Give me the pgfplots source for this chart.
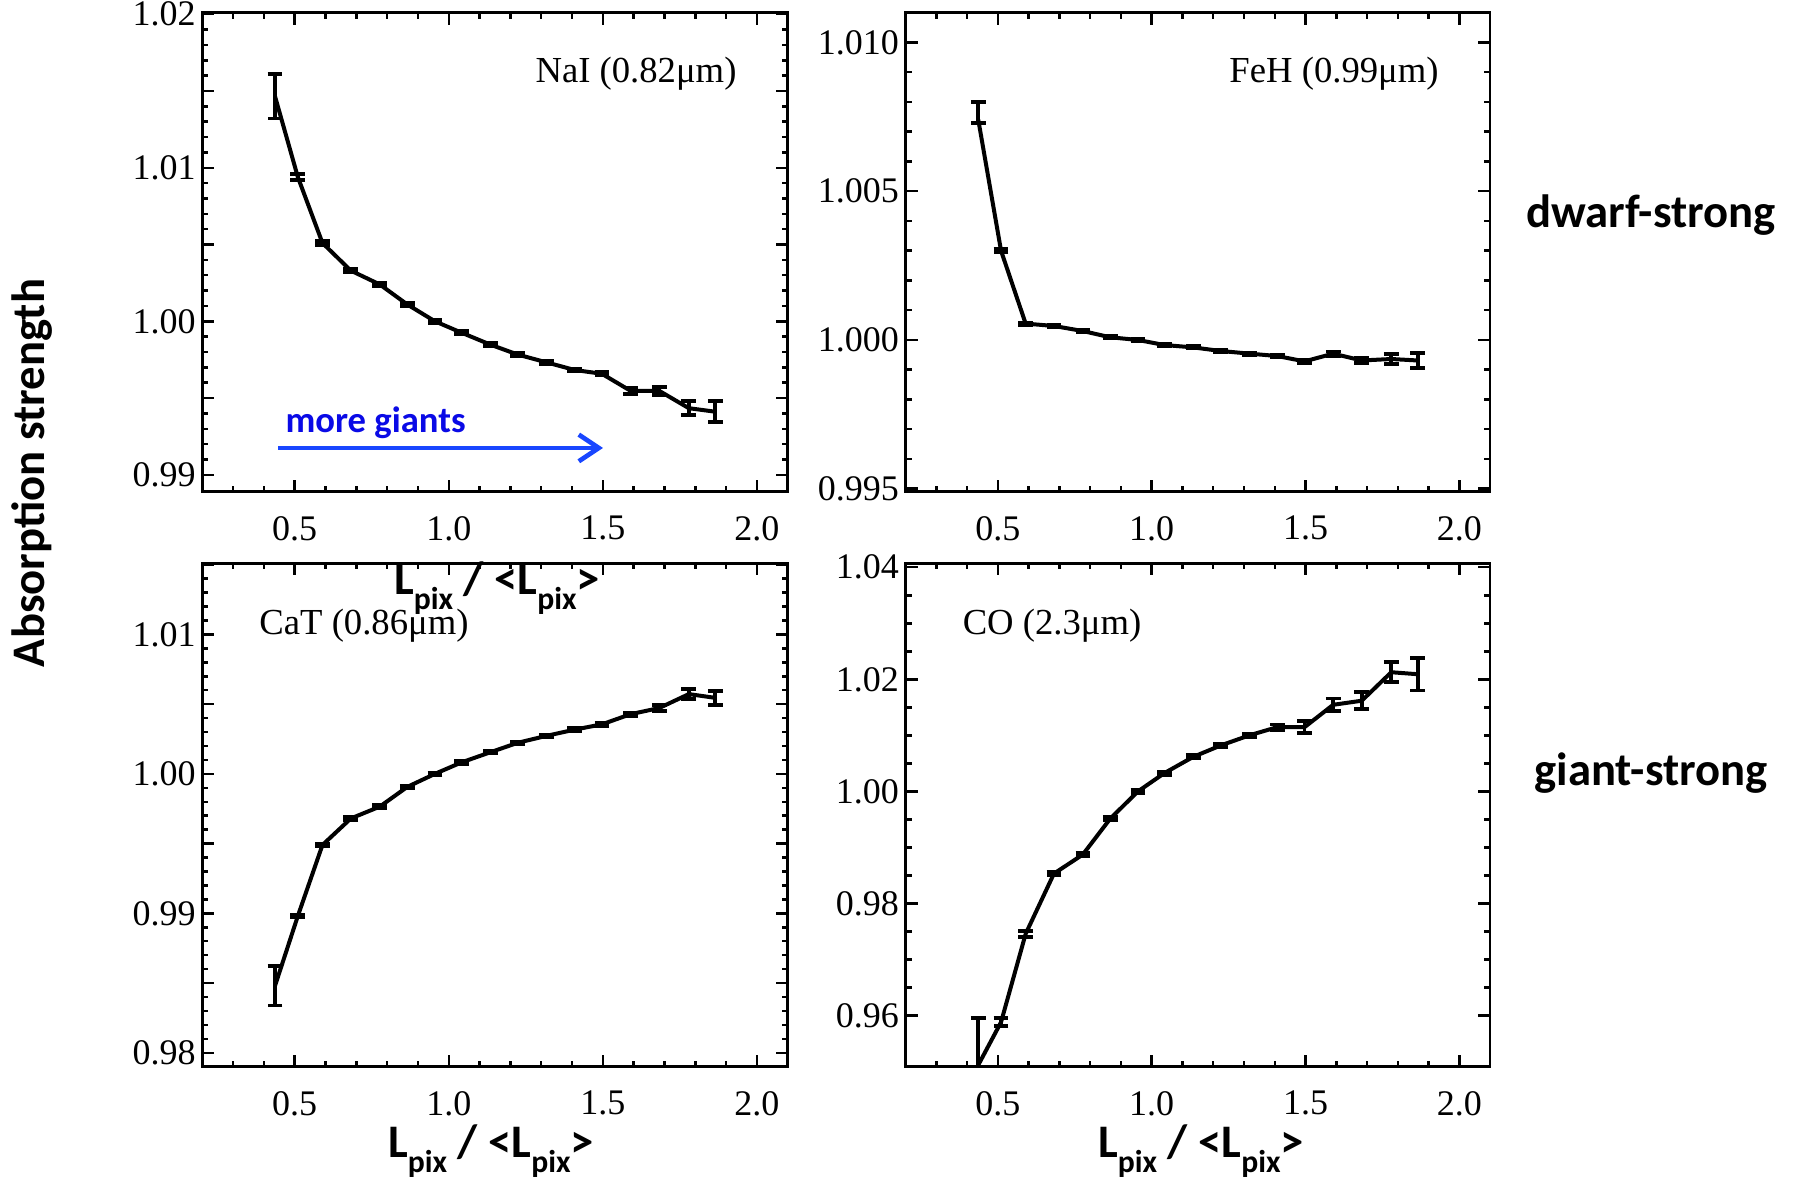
\documentclass[border=0pt]{standalone}
\usepackage{fontspec}
\setmainfont{Liberation Serif}
\newfontfamily\carlito{Carlito}
\usepackage{pgfplots}
\pgfplotsset{compat=1.18}
\usepackage{pgfplotstable}
\usetikzlibrary{arrows.meta}
\definecolor{arrowblue}{RGB}{25,70,255}
\definecolor{textblue}{RGB}{10,10,230}

\pgfplotstableread{
x y ep em
0.436 1.01465 0.00145 0.00145
0.51 1.0094 0.0002 0.0002
0.59 1.0051 0.00015 0.00015
0.682 1.0033 0.0001 0.0001
0.776 1.0024 0.0001 0.0001
0.865 1.0011 0.0001 0.0001
0.955 1.0000 0.0001 0.0001
1.041 0.99926 0.0001 0.0001
1.135 0.99848 0.0001 0.0001
1.224 0.99783 0.0001 0.0001
1.318 0.99732 0.0001 0.0001
1.408 0.99683 0.0001 0.0001
1.497 0.99658 0.00012 0.00012
1.59 0.99547 0.00022 0.00022
1.683 0.99547 0.00025 0.00025
1.779 0.99434 0.00045 0.00045
1.865 0.99411 0.00068 0.00068
}\nai

\pgfplotstableread{
x y ep em
0.436 1.0074 0.0006 0.0001
0.51 1.0030 0.00005 0.00005
0.59 1.00055 0.00004 0.00004
0.682 1.00047 0.00004 0.00004
0.776 1.0003 0.00004 0.00004
0.865 1.00009 0.00004 0.00004
0.955 1.0000 0.00004 0.00004
1.041 0.99983 0.00004 0.00004
1.135 0.99975 0.00004 0.00004
1.224 0.99963 0.00004 0.00004
1.318 0.99954 0.00004 0.00004
1.408 0.99946 0.00004 0.00004
1.497 0.99928 0.00006 0.00006
1.59 0.99954 0.00007 0.00007
1.683 0.99931 0.00008 0.00008
1.779 0.99936 0.00017 0.00017
1.865 0.99931 0.00025 0.00025
}\feh

\pgfplotstableread{
x y ep em
0.436 0.9848 0.0014 0.0014
0.51 0.9898 0.0001 0.0001
0.59 0.9949 0.0001 0.0001
0.682 0.9968 0.0001 0.0001
0.776 0.99765 0.0001 0.0001
0.865 0.99906 0.0001 0.0001
0.955 1.0000 0.0001 0.0001
1.041 1.00082 0.0001 0.0001
1.135 1.00155 0.0001 0.0001
1.224 1.00223 0.0001 0.0001
1.318 1.00273 0.0001 0.0001
1.408 1.00317 0.0001 0.0001
1.497 1.00355 0.0001 0.0001
1.59 1.00428 0.00012 0.00012
1.683 1.00472 0.00022 0.00022
1.779 1.00572 0.00035 0.00035
1.865 1.00545 0.0005 0.0005
}\cat

\pgfplotstableread{
x y ep em
0.436 0.9512 0.0084 0.0084
0.51 0.95884 0.0007 0.0007
0.59 0.97459 0.0005 0.0005
0.682 0.98534 0.0003 0.0003
0.776 0.98875 0.0003 0.0003
0.865 0.99514 0.0003 0.0003
0.955 1.0000 0.0003 0.0003
1.041 1.00327 0.0003 0.0003
1.135 1.00617 0.0003 0.0003
1.224 1.0082 0.0003 0.0003
1.318 1.01002 0.0003 0.0003
1.408 1.01147 0.0005 0.0005
1.497 1.01147 0.0011 0.0011
1.59 1.01546 0.0011 0.0011
1.683 1.01619 0.0015 0.0015
1.779 1.02127 0.0018 0.0018
1.865 1.02091 0.0029 0.0029
}\co

\pgfplotsset{
  panel/.style={
    scale only axis,
    axis line style={line width=0.8pt},
    xmin=0.2, xmax=2.1,
    xtick={0.5,1.0,1.5,2.0}, xticklabels={0.5,1.0,1.5,2.0},
    minor xtick={0.3,0.4,0.6,0.7,0.8,0.9,1.1,1.2,1.3,1.4,1.6,1.7,1.8,1.9},
    tick align=inside,
    major tick length=3.6pt, minor tick length=1.8pt,
    tick style={black, line width=0.75pt},
    tick label style={font=\fontsize{10.8}{12}\selectfont},
    xticklabel style={yshift=-3.8pt},
    yticklabel style={xshift=1.5pt},
  },
  dat/.style={black, line width=1.2pt, mark=none,
    error bars/.cd, y dir=both, y explicit,
    error bar style={line width=1.1pt},
    error mark=|,
    error mark options={line width=1.1pt, mark size=2.2pt, black}},
}

\newcommand\lpix{L\raisebox{-0.32em}{\fontsize{9.5}{10}\selectfont pix}}

\begin{document}
\begin{tikzpicture}
\useasboundingbox (0,0) rectangle (540pt,-354.9pt);

% Top-left: NaI
\begin{axis}[panel, at={(60.69pt,-3.81pt)}, anchor=north west,
  width=175.62pt, height=143.7pt,
  ymin=0.9889, ymax=1.0201,
  ytick={0.99,0.995,1.0,1.005,1.01,1.015,1.02},
  yticklabels={0.99,,1.00,,1.01,,1.02},
  minor y tick num=4]
\addplot[dat] table[x=x, y=y, y error plus=ep, y error minus=em] {\nai};
\draw[arrowblue, line width=1.4pt, -{Straight Barb[length=6pt,width=8pt,line width=1.4pt]}]
  (axis cs:0.4457,0.99175) -- (axis cs:1.5005,0.99175);
\node[anchor=west, text=textblue, font=\carlito\bfseries\fontsize{11}{13}\selectfont, inner sep=0pt]
  at (axis cs:0.468,0.99341) {more giants};
\end{axis}

% Top-right: FeH
\begin{axis}[panel, at={(271.71pt,-3.81pt)}, anchor=north west,
  width=175.29pt, height=143.7pt,
  ymin=0.9949, ymax=1.0110,
  ytick={0.995,1.0,1.005,1.01},
  yticklabels={0.995,1.000,1.005,1.010},
  minor y tick num=4]
\addplot[dat] table[x=x, y=y, y error plus=ep, y error minus=em] {\feh};
\end{axis}

% Bottom-left: CaT
\begin{axis}[panel, at={(60.69pt,-168.99pt)}, anchor=north west,
  width=175.62pt, height=151.02pt,
  ymin=0.979, ymax=1.0151,
  ytick={0.98,0.985,0.99,0.995,1.0,1.005,1.01,1.015},
  yticklabels={0.98,,0.99,,1.00,,1.01,},
  minor y tick num=4]
\addplot[dat] table[x=x, y=y, y error plus=ep, y error minus=em] {\cat};
\end{axis}

% Bottom-right: CO
\begin{axis}[panel, at={(271.71pt,-168.99pt)}, anchor=north west,
  width=175.29pt, height=151.02pt,
  ymin=0.9509, ymax=1.0407,
  ytick={0.96,0.98,1.0,1.02,1.04},
  yticklabels={0.96,0.98,1.00,1.02,1.04},
  minor y tick num=3]
\addplot[dat] table[x=x, y=y, y error plus=ep, y error minus=em] {\co};
\end{axis}

\begin{scope}[x=0.3pt, y=-0.3pt]
\node[font=\fontsize{11}{13}\selectfont] at (636,73.5) {NaI (0.82μm)};
\node[font=\fontsize{11}{13}\selectfont] at (1334,73.5) {FeH (0.99μm)};
\node[font=\fontsize{11}{13}\selectfont] at (364,625.7) {CaT (0.86μm)};
\node[font=\fontsize{11}{13}\selectfont] at (1052,625.7) {CO (2.3μm)};

\node[rotate=90, font=\carlito\bfseries\fontsize{14}{16}\selectfont] at (32,473) {Absorption strength};
\node[font=\carlito\bfseries\fontsize{14}{16}\selectfont] at (1651,215) {dwarf-strong};
\node[font=\carlito\bfseries\fontsize{14}{16}\selectfont] at (1651,773) {giant-strong};

\node[font=\carlito\bfseries\fontsize{14}{16}\selectfont] at (497,588) {\lpix{} / <\lpix>};
\node[font=\carlito\bfseries\fontsize{14}{16}\selectfont] at (491,1151) {\lpix{} / <\lpix>};
\node[font=\carlito\bfseries\fontsize{14}{16}\selectfont] at (1201,1151) {\lpix{} / <\lpix>};
\end{scope}
\end{tikzpicture}
\end{document}
